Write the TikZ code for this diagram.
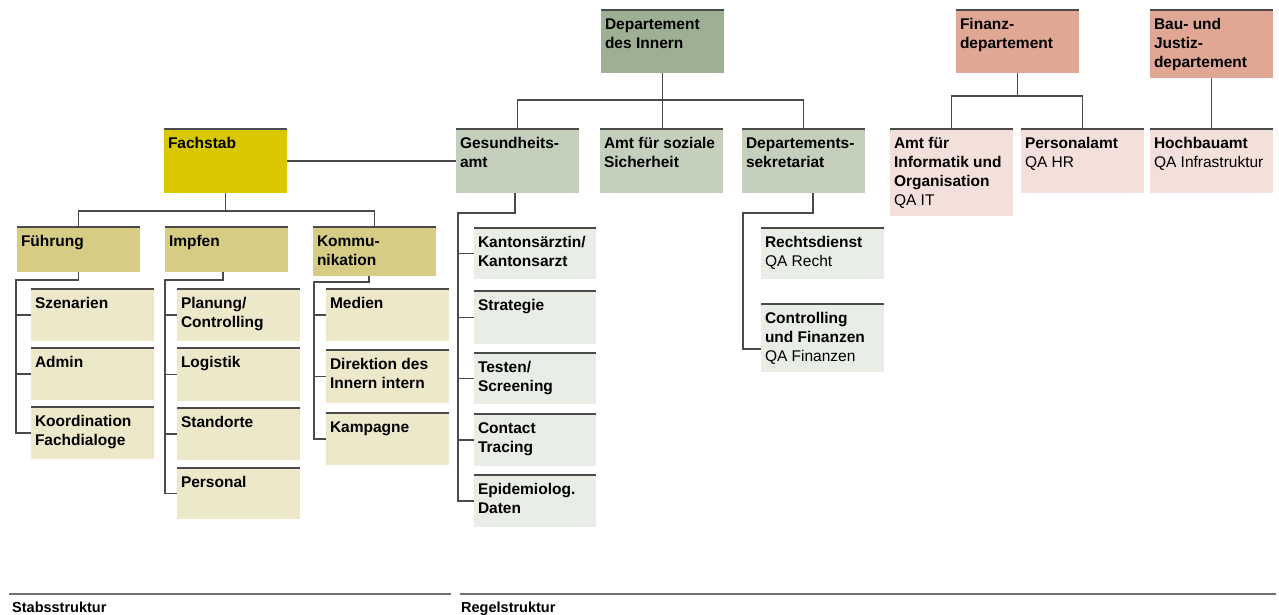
\documentclass[tikz,border=0pt]{standalone}
\usepackage{fontspec}
\setmainfont{Liberation Sans}
\usetikzlibrary{calc}
\definecolor{cFach}{HTML}{D9C800}
\definecolor{cYmid}{HTML}{D6CC84}
\definecolor{cYlight}{HTML}{EDE8CA}
\definecolor{cDep}{HTML}{9DB093}
\definecolor{cGmid}{HTML}{C4D0BC}
\definecolor{cGlight}{HTML}{E8EDE6}
\definecolor{cRose}{HTML}{E0A794}
\definecolor{cRlight}{HTML}{F4E0DA}
\definecolor{cLine}{HTML}{4A4A4A}
\definecolor{cRule}{HTML}{707070}
\tikzset{
  unitbox/.style={inner sep=0pt, outer sep=0pt, anchor=north west, draw=none},
  topline/.style={draw=cLine, line width=1.6pt},
  conn/.style={draw=cLine, line width=1.2pt},
  lbl/.style={anchor=base west, inner sep=0pt, outer sep=0pt, font=\fontsize{15.5}{19}\selectfont},
  foot/.style={anchor=base west, inner sep=0pt, font=\fontsize{14.5}{16}\selectfont\bfseries},
  rulestyle/.style={draw=cRule, line width=2pt}
}
\newcommand\orgbox[7]{%
  \node[unitbox, fill=#6, minimum width={#4pt-#2pt}, minimum height={#5pt-#3pt}] (#1) at (#2,#3) {};
  \draw[topline] (#1.north west) -- (#1.north east);
  \node[lbl] (#1-t) at ($(#1.north west)+(4,19.5)$) {\begin{tabular}[t]{@{}l@{}}#7\end{tabular}};
}
\begin{document}
\begin{tikzpicture}[x=1pt,y=-1pt]
\useasboundingbox (0,0) rectangle (1279,614);
\fill[white] (0,0) rectangle (1279,614);

% --- Regelstruktur top level
\orgbox{dep}{601}{10}{724}{73}{cDep}{\textbf{Departement}\\\textbf{des Innern}}
\orgbox{fin}{956}{10}{1079}{73}{cRose}{\textbf{Finanz-}\\\textbf{departement}}
\orgbox{bau}{1150}{10}{1273}{78}{cRose}{\textbf{Bau- und}\\\textbf{Justiz-}\\\textbf{departement}}

% --- second level
\orgbox{fs}{164}{129}{287}{193}{cFach}{\textbf{Fachstab}}
\orgbox{ga}{456}{129}{579}{193}{cGmid}{\textbf{Gesundheits-}\\\textbf{amt}}
\orgbox{ass}{600}{129}{723}{193}{cGmid}{\textbf{Amt für soziale}\\\textbf{Sicherheit}}
\orgbox{dsek}{742}{129}{865}{193}{cGmid}{\textbf{Departements-}\\\textbf{sekretariat}}
\orgbox{aio}{890}{129}{1013}{216}{cRlight}{\textbf{Amt für}\\\textbf{Informatik und}\\\textbf{Organisation}\\QA IT}
\orgbox{pers}{1021}{129}{1144}{193}{cRlight}{\textbf{Personalamt}\\QA HR}
\orgbox{hoch}{1150}{129}{1273}{193}{cRlight}{\textbf{Hochbauamt}\\QA Infrastruktur}

% --- Stab groups
\orgbox{fue}{17}{227}{140}{272}{cYmid}{\textbf{Führung}}
\orgbox{imp}{165}{227}{288}{272}{cYmid}{\textbf{Impfen}}
\orgbox{kom}{313}{227}{436}{276}{cYmid}{\textbf{Kommu-}\\\textbf{nikation}}

% --- Führung children
\orgbox{szen}{31}{289}{154}{341}{cYlight}{\textbf{Szenarien}}
\orgbox{adm}{31}{348}{154}{400}{cYlight}{\textbf{Admin}}
\orgbox{koord}{31}{407}{154}{459}{cYlight}{\textbf{Koordination}\\\textbf{Fachdialoge}}

% --- Impfen children
\orgbox{plan}{177}{289}{300}{341}{cYlight}{\textbf{Planung/}\\\textbf{Controlling}}
\orgbox{log}{177}{348}{300}{401}{cYlight}{\textbf{Logistik}}
\orgbox{stand}{177}{408}{300}{460}{cYlight}{\textbf{Standorte}}
\orgbox{perso}{177}{468}{300}{519}{cYlight}{\textbf{Personal}}

% --- Kommunikation children
\orgbox{med}{326}{289}{449}{341}{cYlight}{\textbf{Medien}}
\orgbox{dir}{326}{350}{449}{403}{cYlight}{\textbf{Direktion des}\\\textbf{Innern intern}}
\orgbox{kamp}{326}{413}{449}{465}{cYlight}{\textbf{Kampagne}}

% --- Gesundheitsamt children
\orgbox{kant}{474}{228}{596}{279}{cGlight}{\textbf{Kantonsärztin/}\\\textbf{Kantonsarzt}}
\orgbox{strat}{474}{291}{596}{344}{cGlight}{\textbf{Strategie}}
\orgbox{test}{474}{353}{596}{404}{cGlight}{\textbf{Testen/}\\\textbf{Screening}}
\orgbox{cont}{474}{414}{596}{466}{cGlight}{\textbf{Contact}\\\textbf{Tracing}}
\orgbox{epi}{474}{475}{596}{527}{cGlight}{\textbf{Epidemiolog.}\\\textbf{Daten}}

% --- Departementssekretariat children
\orgbox{recht}{761}{228}{884}{279}{cGlight}{\textbf{Rechtsdienst}\\QA Recht}
\orgbox{ctrl}{761}{304}{884}{372}{cGlight}{\textbf{Controlling}\\\textbf{und Finanzen}\\QA Finanzen}

% --- connectors: Departement des Innern
\coordinate (depbar) at (662,100);
\draw[conn] (dep.south) -- (dep.south |- ass.north);
\draw[conn] (ga.north) |- (depbar) -| (dsek.north);

% --- Fachstab
\draw[conn] (fs.east) -- (ga.west);
\coordinate (fsbar) at (226,211);
\draw[conn] (fs.south) -- (fs.south |- fsbar);
\draw[conn] (fue.north) |- (fsbar) -| (kom.north);

% --- Führung
\coordinate (fuebar) at (16,280);
\draw[conn] (fue.south) |- (fuebar) |- (koord.west);
\draw[conn] (fuebar |- szen.west) -- (szen.west);
\draw[conn] (fuebar |- adm.west) -- (adm.west);

% --- Impfen
\coordinate (impbar) at (165,280);
\draw[conn] ([xshift=-3.5pt]imp.south) |- (impbar) |- (perso.west);
\draw[conn] (impbar |- plan.west) -- (plan.west);
\draw[conn] (impbar |- log.west) -- (log.west);
\draw[conn] (impbar |- stand.west) -- (stand.west);

% --- Kommunikation
\coordinate (kombar) at (314,282);
\draw[conn] ([xshift=-5.5pt]kom.south) |- (kombar) |- (kamp.west);
\draw[conn] (kombar |- med.west) -- (med.west);
\draw[conn] (kombar |- dir.west) -- (dir.west);

% --- Gesundheitsamt
\coordinate (gabar) at (458,213);
\draw[conn] ([xshift=-2.5pt]ga.south) |- (gabar) |- (epi.west);
\draw[conn] (gabar |- kant.west) -- (kant.west);
\draw[conn] (gabar |- strat.west) -- (strat.west);
\draw[conn] (gabar |- test.west) -- (test.west);
\draw[conn] (gabar |- cont.west) -- (cont.west);

% --- Departementssekretariat
\coordinate (dsbar) at (743,213);
\draw[conn] ([xshift=9.5pt]dsek.south) |- (dsbar) |- ([yshift=-11pt]ctrl.west);

% --- Finanzdepartement
\coordinate (finbar) at (1018,96);
\draw[conn] (fin.south) -- (fin.south |- finbar);
\draw[conn] (aio.north) |- (finbar) -| (pers.north);

% --- Bau- und Justizdepartement
\draw[conn] (bau.south) -- (hoch.north);

% --- footer
\draw[rulestyle] (9,594) -- (451,594);
\draw[rulestyle] (460,594) -- (1276,594);
\node[foot] (stabs) at (12,612) {Stabsstruktur};
\node[foot] (regel) at (461,612) {Regelstruktur};
\end{tikzpicture}
\end{document}
